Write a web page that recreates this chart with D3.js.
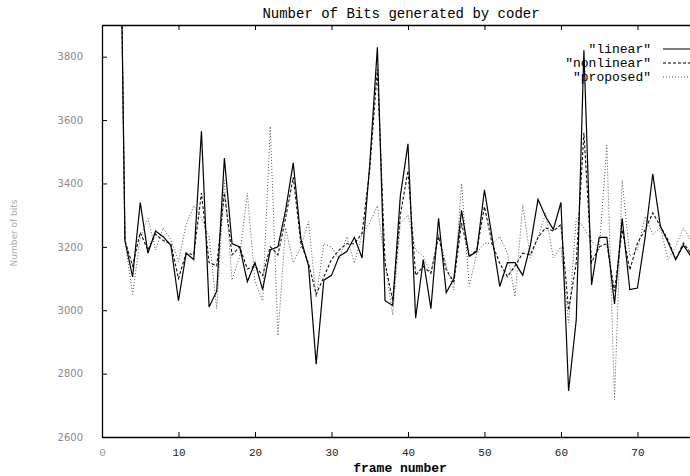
<!DOCTYPE html>
<html>
<head>
<meta charset="utf-8">
<script src="https://cdn.jsdelivr.net/npm/d3@7"></script>
<style>
  body { margin: 0; background: #fff; }
  svg { display: block; }
  .tick line { stroke: #000; }
</style>
</head>
<body>
<svg width="690" height="476"></svg>
<script>
// frame numbers (first frame is the intra frame, far above the plot)
const frames = d3.range(2, 78);

const linear = [5000, 3220, 3105, 3340, 3180, 3250, 3232, 3205, 3030, 3180,
  3160, 3565, 3010, 3060, 3480, 3210, 3200, 3090, 3150, 3065,
  3190, 3200, 3315, 3465, 3225, 3140, 2830, 3095, 3110, 3170,
  3185, 3230, 3165, 3460, 3830, 3030, 3015, 3360, 3525, 2975,
  3160, 3005, 3290, 3055, 3100, 3315, 3170, 3185, 3380, 3230,
  3075, 3150, 3150, 3110, 3205, 3350, 3295, 3255, 3340, 2745,
  2970, 3820, 3080, 3230, 3230, 3020, 3290, 3065, 3070, 3230,
  3430, 3265, 3215, 3160, 3205, 3170];

const nonlinear = [5000, 3220, 3140, 3245, 3190, 3240, 3220, 3210, 3100, 3180,
  3175, 3370, 3150, 3140, 3370, 3175, 3200, 3130, 3140, 3110,
  3200, 3175, 3290, 3420, 3210, 3148, 3050, 3105, 3160, 3190,
  3210, 3210, 3243, 3443, 3760, 3150, 3030, 3300, 3440, 3110,
  3138, 3117, 3232, 3127, 3090, 3275, 3170, 3190, 3327, 3210,
  3148, 3106, 3140, 3180, 3175, 3230, 3260, 3250, 3270, 3000,
  3150, 3560, 3150, 3200, 3210, 3060, 3254, 3127, 3212, 3254,
  3307, 3265, 3222, 3160, 3212, 3180];

const proposed = [5000, 3220, 3050, 3230, 3290, 3190, 3260, 3222, 3154, 3270,
  3330, 3290, 3232, 3005, 3410, 3095, 3170, 3370, 3090, 3030,
  3580, 2920, 3260, 3150, 3200, 3280, 3040, 3210, 3200, 3160,
  3232, 3148, 3240, 3275, 3330, 3150, 2985, 3275, 3300, 3190,
  3170, 3115, 3240, 3140, 3064, 3400, 3075, 3180, 3212, 3210,
  3232, 3180, 3043, 3333, 3165, 3230, 3307, 3165, 3200, 2960,
  3290, 3260, 3220, 3190, 3520, 2717, 3410, 3170, 3190, 3296,
  3240, 3260, 3160, 3200, 3260, 3220];

const xTicks = [0, 10, 20, 30, 40, 50, 60, 70];
const yTicks = [2600, 2800, 3000, 3200, 3400, 3600, 3800];

const seriesNames = ['"linear"', '"nonlinear"', '"proposed"'];

const svg = d3.select('svg');

const plotLeft = 102, plotRight = 691, plotTop = 25, plotBottom = 437;

const x = d3.scaleLinear().domain([0, 77]).range([plotLeft, plotRight]);
const y = d3.scaleLinear().domain([2600, 3900]).range([plotBottom, plotTop]);

// clip so the big first frame is cut at the border
svg.append('clipPath').attr('id', 'plot')
  .append('rect')
  .attr('x', plotLeft).attr('y', plotTop)
  .attr('width', plotRight - plotLeft).attr('height', plotBottom - plotTop);

// axes, gnuplot style ticks pointing inward
const yAxis = svg.append('g')
  .attr('transform', `translate(${plotLeft},0)`)
  .call(d3.axisLeft(y).tickValues(yTicks).tickFormat(d3.format('d'))
    .tickSize(-5).tickSizeOuter(0).tickPadding(19));
yAxis.selectAll('text')
  .style('font-family', 'DejaVu Sans, sans-serif')
  .style('font-size', '10px')
  .attr('fill', '#8a8a8a');

const xAxis = svg.append('g')
  .attr('transform', `translate(0,${plotBottom})`)
  .call(d3.axisBottom(x).tickValues(xTicks).tickSize(-5).tickSizeOuter(0).tickPadding(11));
xAxis.selectAll('text')
  .style('font-family', 'Liberation Mono, monospace')
  .style('font-size', '11px')
  .attr('fill', (d) => d === 0 ? '#999' : '#222');

svg.append('g')
  .attr('transform', `translate(0,${plotTop})`)
  .call(d3.axisTop(x).tickValues(xTicks).tickSize(-5).tickSizeOuter(0).tickFormat(''));

svg.selectAll('.domain').attr('stroke', '#000').attr('stroke-width', 1.3);

// lines
const line = (vals) => d3.line()
  .x((d, i) => x(frames[i]))
  .y((d) => y(d))(vals);

const lines = svg.append('g').attr('clip-path', 'url(#plot)');

lines.append('path')
  .attr('d', line(proposed))
  .attr('fill', 'none')
  .attr('stroke', '#555')
  .attr('stroke-width', 1)
  .attr('stroke-dasharray', '1,2');

lines.append('path')
  .attr('d', line(nonlinear))
  .attr('fill', 'none')
  .attr('stroke', '#111')
  .attr('stroke-width', 1.1)
  .attr('stroke-dasharray', '3,2');

lines.append('path')
  .attr('d', line(linear))
  .attr('fill', 'none')
  .attr('stroke', '#000')
  .attr('stroke-width', 1.2);

// legend
const dashes = [null, '3,2', '1,2'];
const legend = svg.append('g');
seriesNames.forEach((name, i) => {
  const ly = 49 + i * 14;
  legend.append('text')
    .attr('x', 651).attr('y', ly + 4)
    .attr('text-anchor', 'end')
    .style('font-family', 'Liberation Mono, monospace')
    .style('font-size', '13px')
    .text(name);
  legend.append('line')
    .attr('x1', 663).attr('x2', 690)
    .attr('y1', ly).attr('y2', ly)
    .attr('stroke', i === 2 ? '#555' : '#000')
    .attr('stroke-width', 1)
    .attr('stroke-dasharray', dashes[i]);
});

// titles
svg.append('text')
  .attr('x', 401).attr('y', 18)
  .attr('text-anchor', 'middle')
  .style('font-family', 'Liberation Mono, monospace')
  .style('font-size', '14px')
  .text('Number of Bits generated by coder');

svg.append('text')
  .attr('x', 400).attr('y', 472)
  .attr('text-anchor', 'middle')
  .style('font-family', 'Liberation Mono, monospace')
  .style('font-size', '13px')
  .style('font-weight', 'bold')
  .text('frame number');

svg.append('text')
  .attr('transform', 'translate(17,233) rotate(-90)')
  .attr('text-anchor', 'middle')
  .style('font-family', 'DejaVu Sans, sans-serif')
  .style('font-size', '9px')
  .attr('fill', '#aaa')
  .text('Number of bits');
</script>
</body>
</html>
